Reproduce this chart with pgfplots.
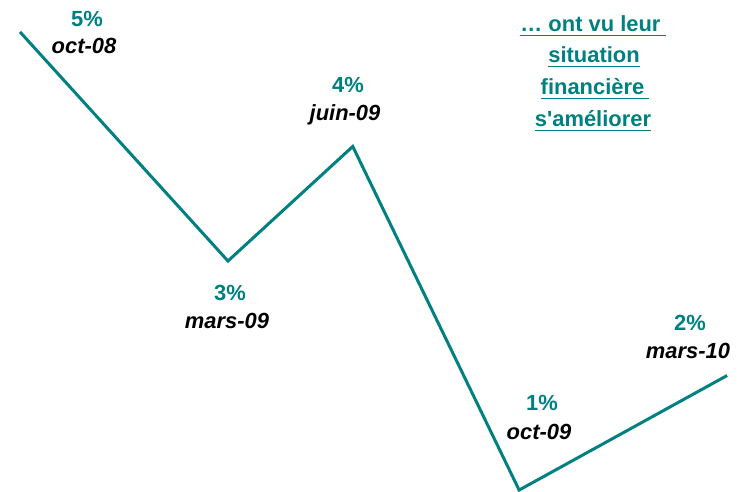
\documentclass[border=0pt]{standalone}
\usepackage{pgfplots}
\pgfplotsset{compat=1.18}
\usepackage{fontspec}
\setmainfont{Liberation Sans}
\definecolor{tealc}{RGB}{0,128,128}
\newcommand{\bigf}{\fontsize{22}{26}\selectfont\bfseries}
\begin{document}
\begin{tikzpicture}
\begin{axis}[width=740bp,height=492bp,scale only axis,axis lines=none,
  xmin=-0.481,xmax=17.31,ymin=0.983,ymax=5.279,clip=false]
\addplot[tealc,line width=3bp,line join=miter] coordinates {(0,5)(5,3)(8,4)(12,1)(17,2)};
\end{axis}
\newcommand{\lab}[3]{\node[anchor=base,inner sep=0pt,font=\bigf] at ([shift={(#1bp,-#2bp)}]current axis.north west) {#3};}
\newcommand{\ulab}[3]{\node[anchor=base,inner sep=0pt,font=\bigf,text=tealc] (u) at ([shift={(#1bp,-#2bp)}]current axis.north west) {#3};
  \draw[tealc,line width=1.8bp] ([yshift=-3.5bp]u.base west) -- ([yshift=-3.5bp]u.base east);}
\lab{87}{27}{\color{tealc}5\%}
\lab{84}{54}{\itshape oct-08}
\lab{230}{301}{\color{tealc}3\%}
\lab{227}{329}{\itshape mars-09}
\lab{348}{93}{\color{tealc}4\%}
\lab{345}{121}{\itshape juin-09}
\lab{542}{411}{\color{tealc}1\%}
\lab{539}{440}{\itshape oct-09}
\lab{690}{331}{\color{tealc}2\%}
\lab{688}{359}{\itshape mars-10}
\ulab{593}{32}{… ont vu leur\strut\kern5bp}
\ulab{594}{63}{situation}
\ulab{595}{95}{financière\kern5bp}
\ulab{593}{127}{s\textquotesingle améliorer}
\pgfresetboundingbox
\path (current axis.south west) rectangle (current axis.north east);
\end{tikzpicture}
\end{document}
